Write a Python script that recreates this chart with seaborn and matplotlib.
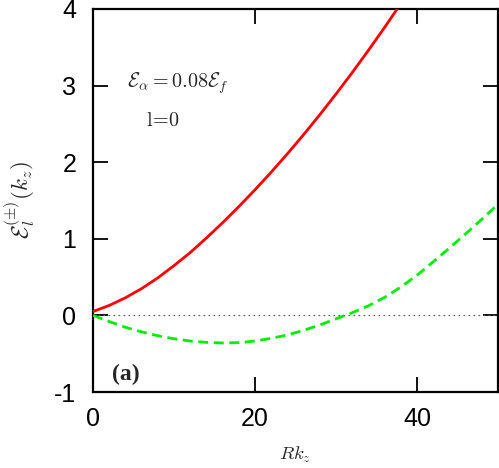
import matplotlib
matplotlib.use("Agg")
import matplotlib.pyplot as plt
import seaborn as sns
import pandas as pd

# Data
x_plus = [0, 2, 4, 6, 8, 10, 12, 14, 16, 18, 20, 22, 24, 26, 28, 30, 32, 34, 36, 38]
y_plus = [0.05, 0.13, 0.23, 0.35, 0.49, 0.65, 0.82, 1.01, 1.21, 1.42, 1.64, 1.87, 2.11, 2.36, 2.62, 2.89, 3.17, 3.46, 3.76, 4.07]

x_minus = [0, 2, 4, 6, 8, 10, 12, 14, 16, 18, 20, 22, 24, 26, 28, 30, 32, 34, 36, 38, 40, 42, 44, 46, 48, 50]
y_minus = [0.0, -0.08, -0.155, -0.215, -0.265, -0.305, -0.335, -0.352, -0.36, -0.355, -0.335, -0.30,
           -0.255, -0.195, -0.125, -0.045, 0.035, 0.125, 0.235, 0.37, 0.525, 0.70, 0.88, 1.065, 1.255, 1.45]

x_ticks = [0, 20, 40]
y_ticks = [-1, 0, 1, 2, 3, 4]

sns.set_style("white")
plt.rcParams['font.family'] = ['Liberation Sans', 'DejaVu Sans']
plt.rcParams['mathtext.fontset'] = 'cm'

fig = plt.figure(figsize=(4.99, 4.68), dpi=100)
ax = fig.add_axes([93/499, 76/468, 405/499, 383/468])

df_p = pd.DataFrame({"x": x_plus, "y": y_plus})
df_m = pd.DataFrame({"x": x_minus, "y": y_minus})

ax.axhline(0, color='#555555', lw=0.8, ls=(0, (1.5, 3)), zorder=1)
sns.lineplot(data=df_p, x="x", y="y", ax=ax, color='#ff0000', lw=2.0, zorder=3)
sns.lineplot(data=df_m, x="x", y="y", ax=ax, color='#00ee00', lw=2.0, zorder=3,
             dashes=False, linestyle=(0, (3.6, 2.0)))

ax.set_xlim(0, 50)
ax.set_ylim(-1, 4)
ax.set_xticks(x_ticks)
ax.set_yticks(y_ticks)
ax.set_xticklabels([str(v) for v in x_ticks])
ax.set_yticklabels([str(v) for v in y_ticks])

for s in ax.spines.values():
    s.set_linewidth(1.6)
    s.set_color('black')
    s.set_visible(True)

ax.tick_params(direction='in', length=11, width=1.3, labelsize=18,
               top=True, right=True, bottom=True, left=True, colors='black')
ax.tick_params(axis='x', pad=11)
ax.tick_params(axis='y', pad=12)

ax.set_xlabel(r'$Rk_z$', fontsize=13.5, labelpad=10)
ax.set_ylabel(r'$\mathcal{E}_l^{(\pm)}(k_z)$', fontsize=16.5, labelpad=12)

ax.text(0.083, 0.795, r'$\mathcal{E}_\alpha = 0.08\mathcal{E}_f$', transform=ax.transAxes, fontsize=14.5)
ax.text(0.132, 0.695, r'$\mathrm{l\!=\!0}$', transform=ax.transAxes, fontsize=14.5)
ax.text(0.047, 0.03, '(a)', transform=ax.transAxes, fontsize=17,
        family=['Liberation Serif', 'DejaVu Serif'], fontweight='bold')

fig.savefig("out.png", dpi=100)
